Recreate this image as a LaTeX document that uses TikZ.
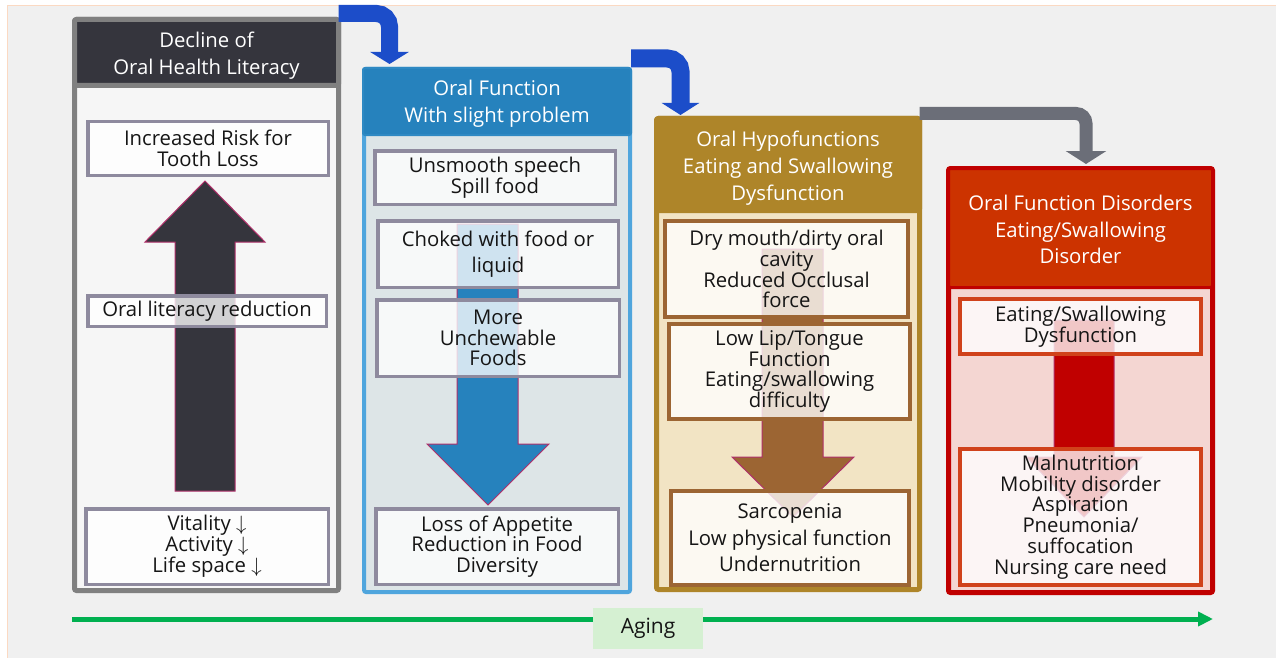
\documentclass[tikz,border=0pt]{standalone}
\usepackage{fontspec}
\setmainfont{Open Sans}
\usetikzlibrary{arrows.meta}
\definecolor{bggray}{HTML}{F0F0F0}
\definecolor{peach}{HTML}{FBD9C2}
\definecolor{darkhead}{HTML}{35353D}
\definecolor{framegray}{HTML}{808080}
\definecolor{boxgray}{HTML}{8E8A9E}
\definecolor{lblue}{HTML}{4FA5DD}
\definecolor{mblue}{HTML}{2682BD}
\definecolor{body2}{HTML}{DDE5E7}
\definecolor{gold}{HTML}{AE8529}
\definecolor{body3}{HTML}{F2E4C4}
\definecolor{brown}{HTML}{9C6533}
\definecolor{darkred}{HTML}{C00000}
\definecolor{orred}{HTML}{CC3300}
\definecolor{body4}{HTML}{F4D6D2}
\definecolor{box4}{HTML}{D0421B}
\definecolor{magen}{HTML}{B0306A}
\definecolor{bandblue}{HTML}{1C4DC9}
\definecolor{bandgray}{HTML}{6B6E78}
\definecolor{agegreen}{HTML}{00B050}
\definecolor{agefill}{HTML}{D5F0D2}
\definecolor{txt}{HTML}{151515}
\tikzset{
  frame/.style={rectangle, inner sep=0pt, outer sep=0pt, line width=5pt, rounded corners=2pt},
  ibox/.style={rectangle, inner sep=0pt, outer sep=0pt, align=center, text=txt,
     line width=3.5pt, fill opacity=0.78, text opacity=1,
     font=\fontsize{20.3}{20.8}\selectfont},
  bigarrow/.style={draw=magen, line width=1pt},
  band/.style={line width=17pt, rounded corners=13pt},
  htext/.style={inner sep=0pt, align=center, text=white, font=\fontsize{20.3}{26.8}\selectfont},
}
\begin{document}
\begin{tikzpicture}[x=1pt,y=-1pt]
\useasboundingbox (0,0) rectangle (1276,658);
\fill[white] (0,0) rectangle (1276,658);
\filldraw[fill=bggray, draw=peach, line width=1.5pt] (7.5,5.5) rectangle (1282,664);

% ---------- column 1 ----------
\node[frame, draw=framegray, fill=bggray!60!white, minimum width=264pt, minimum height=571pt] (f1) at (206.5,305) {};
\node[frame, draw=framegray, fill=darkhead, minimum width=264pt, minimum height=66pt] (h1) at (206.5,52.5) {};
\node[htext] (h1t) at (206.5,56) {Decline of\\Oral Health Literacy};
\filldraw[fill=darkhead, bigarrow] (175,491) -- (175,242) -- (145,242) -- (205,181) -- (265,242) -- (235,242) -- (235,491) -- cycle;
\node[ibox, draw=boxgray, fill=white, minimum width=240.5pt, minimum height=53.5pt] (b11) at (208,148.5) {Increased Risk for\\Tooth Loss};
\node[ibox, draw=boxgray, fill=white, minimum width=238.5pt, minimum height=30.5pt] (b12) at (207,311) {Oral literacy reduction};
\node[ibox, draw=boxgray, fill=white, minimum width=242.5pt, minimum height=75.5pt] (b13) at (207,546.5) {Vitality $\downarrow$\\Activity $\downarrow$\\Life space $\downarrow$};

% ---------- column 2 ----------
\node[frame, line width=4pt, draw=lblue, fill=body2, minimum width=266pt, minimum height=523pt] (f2) at (497,330.5) {};
\node[frame, line width=2pt, draw=mblue!80!lblue, fill=mblue, minimum width=268pt, minimum height=67pt] (h2) at (497,101.5) {};
\node[htext] (h2t) at (497,103.5) {Oral Function\\With slight problem};
\filldraw[fill=mblue, bigarrow] (457,224) -- (457,444) -- (427,444) -- (488,505) -- (549,444) -- (518,444) -- (518,224) -- cycle;
\node[ibox, draw=boxgray, fill=white, minimum width=240.5pt, minimum height=53.5pt] (b21) at (495,177.5) {Unsmooth speech\\Spill food};
\node[ibox, draw=boxgray, fill=white, minimum width=240.5pt, minimum height=66.5pt] (b22) at (498,254) {Choked with food or\\[5pt]liquid};
\node[ibox, draw=boxgray, fill=white, minimum width=242.5pt, minimum height=76.5pt] (b23) at (498,338) {More\\Unchewable\\Foods};
\node[ibox, draw=boxgray, fill=white, minimum width=242.5pt, minimum height=75.5pt] (b24) at (497,546.5) {Loss of Appetite\\Reduction in Food\\Diversity};

% ---------- column 3 ----------
\node[frame, draw=gold, fill=body3, minimum width=263pt, minimum height=471pt] (f3) at (788,354) {};
\node[frame, draw=gold, fill=gold, minimum width=263pt, minimum height=92pt] (h3) at (788,164.5) {};
\node[htext] (h3t) at (788,168) {Oral Hypofunctions\\Eating and Swallowing\\Dysfunction};
\filldraw[fill=brown, bigarrow] (762,249) -- (762,457) -- (732,457) -- (793,517) -- (854,457) -- (823,457) -- (823,249) -- cycle;
\node[ibox, line width=4pt, draw=brown, fill=white, minimum width=243pt, minimum height=96pt] (b31) at (786.5,269) {Dry mouth/dirty oral\\cavity\\Reduced Occlusal\\force};
\node[ibox, line width=4pt, draw=brown, fill=white, minimum width=241pt, minimum height=95pt] (b32) at (789.5,371.5) {Low Lip/Tongue\\Function\\Eating/swallowing\\difficulty};
\node[ibox, line width=4pt, draw=brown, fill=white, minimum width=238pt, minimum height=94pt, font=\fontsize{20.3}{26.5}\selectfont] (b33) at (790,538) {Sarcopenia\\Low physical function\\Undernutrition};

% ---------- column 4 ----------
\node[frame, draw=darkred, fill=body4, minimum width=264pt, minimum height=424pt] (f4) at (1080.5,380.5) {};
\node[frame, line width=3pt, draw=darkred, fill=orred, minimum width=264pt, minimum height=119pt] (h4) at (1080.5,228) {};
\node[htext] (h4t) at (1080.5,229.5) {Oral Function Disorders\\Eating/Swallowing\\Disorder};
\filldraw[fill=darkred, bigarrow] (1054,320) -- (1054,457) -- (1026,457) -- (1084,517) -- (1142,457) -- (1114,457) -- (1114,320) -- cycle;
\node[ibox, line width=4pt, draw=box4, fill=white, minimum width=241pt, minimum height=55pt] (b41) at (1080.5,326.5) {Eating/Swallowing\\Dysfunction};
\node[ibox, line width=4pt, draw=box4, fill=white, minimum width=241pt, minimum height=136pt] (b42) at (1080.5,517) {Malnutrition\\Mobility disorder\\Aspiration\\Pneumonia/\\suffocation\\Nursing care need};

% ---------- bent connectors ----------
\coordinate (t12) at (389.5,64);
\coordinate (t23) at (680.5,115);
\coordinate (t34) at (1086,164);
\draw[band, bandblue, -{Triangle[width=38pt,length=12pt]}] ([yshift=6pt]h1.north east) -| (t12);
\draw[band, line width=18pt, bandblue, -{Triangle[width=37pt,length=12pt]}] ([yshift=9.5pt]h2.north east) -| (t23);
\draw[band, line width=13pt, rounded corners=10pt, bandgray, -{Triangle[width=40pt,length=13pt]}] ([yshift=5pt]h3.north east) -| (t34);

% ---------- aging ----------
\coordinate (a0) at (72,619);
\coordinate (a1) at (1213,619);
\draw[agegreen, line width=5pt, -{Triangle[width=14pt,length=15pt]}] (a0) -- (a1);
\node[rectangle, fill=agefill, minimum width=110pt, minimum height=41pt, inner sep=0pt, text=txt,
  font=\fontsize{21}{22}\selectfont] (age) at (648,628.5) {Aging};
\end{tikzpicture}
\end{document}
